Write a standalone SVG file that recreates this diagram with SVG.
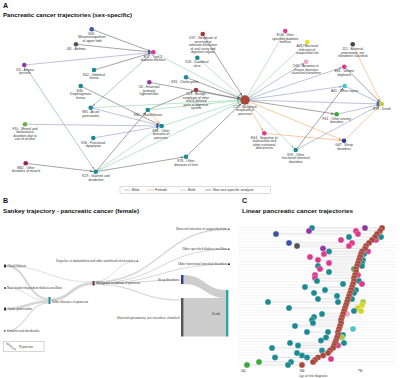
<svg xmlns="http://www.w3.org/2000/svg" width="400" height="378" viewBox="0 0 400 378">
<style>
.pl{font-family:"Liberation Sans",Arial,sans-serif;font-weight:bold;fill:#111}
.ti{font-family:"Liberation Sans",Arial,sans-serif;font-weight:bold;font-size:6px;fill:#111}
.lb{font-family:"Liberation Sans",Arial,sans-serif;font-size:3.3px;fill:#333;text-anchor:middle}
.lg{font-family:"Liberation Sans",Arial,sans-serif;font-size:3.6px;fill:#333}
.sk{font-family:"Liberation Serif","Times New Roman",serif;font-size:3.4px;fill:#333}
.ax{font-family:"Liberation Serif","Times New Roman",serif;font-size:4.6px;fill:#222;text-anchor:middle}
.e{fill:none;stroke-width:0.6}
.m{stroke:#8c9cc0}.f{stroke:#f0a868}.b{stroke:#92d2aa}.n{stroke:#666}
.fl{fill:none;stroke:#cfcfcf;stroke-opacity:0.85}
.rl{stroke:#c8c8c8;stroke-width:0.5}
.d{stroke:#fff;stroke-width:0.25}
.te{fill:#1c8a92}.pk{fill:#dc3a8c}.pu{fill:#8e3aa4}.bl{fill:#3a55a8}.gy{fill:#555}.br{fill:#a8483c}.gr{fill:#3aa83a}.ye{fill:#d4d428}.li{fill:#a8c848}.lp{fill:#f0a8c8}.cy{fill:#4cc4cc}
</style>
<defs>
<marker id="am" markerUnits="userSpaceOnUse" markerWidth="4" markerHeight="3" refX="5.5" refY="1.2" orient="auto"><path d="M0,0L3,1.2L0,2.4z" fill="#8c9cc0"/></marker>
<marker id="af" markerUnits="userSpaceOnUse" markerWidth="4" markerHeight="3" refX="5.5" refY="1.2" orient="auto"><path d="M0,0L3,1.2L0,2.4z" fill="#f0a868"/></marker>
<marker id="ab" markerUnits="userSpaceOnUse" markerWidth="4" markerHeight="3" refX="5.5" refY="1.2" orient="auto"><path d="M0,0L3,1.2L0,2.4z" fill="#92d2aa"/></marker>
<marker id="an" markerUnits="userSpaceOnUse" markerWidth="4" markerHeight="3" refX="5.5" refY="1.2" orient="auto"><path d="M0,0L3,1.2L0,2.4z" fill="#666"/></marker>
<marker id="amC" markerUnits="userSpaceOnUse" markerWidth="4" markerHeight="3" refX="8" refY="1.2" orient="auto"><path d="M0,0L3,1.2L0,2.4z" fill="#8c9cc0"/></marker>
<marker id="abC" markerUnits="userSpaceOnUse" markerWidth="4" markerHeight="3" refX="8" refY="1.2" orient="auto"><path d="M0,0L3,1.2L0,2.4z" fill="#92d2aa"/></marker>
<marker id="anC" markerUnits="userSpaceOnUse" markerWidth="4" markerHeight="3" refX="8" refY="1.2" orient="auto"><path d="M0,0L3,1.2L0,2.4z" fill="#666"/></marker>
<pattern id="grid" patternUnits="userSpaceOnUse" x="0" y="227" width="10" height="2.85"><line x1="0" y1="0.5" x2="10" y2="0.5" stroke="#e6e6e6" stroke-width="0.45"/></pattern>
</defs>
<rect width="400" height="378" fill="#fff"/>

<!-- Panel A -->
<text class="pl" x="3" y="7.5" font-size="7">A</text>
<text class="ti" x="3" y="17" textLength="129" lengthAdjust="spacingAndGlyphs">Pancreatic cancer trajectories (sex-specific)</text>

<g id="edgesA">
<line class="e n" x1="76" y1="44.3" x2="153.3" y2="52.3" marker-end="url(#an)"/>
<line class="e n" x1="91.7" y1="29.3" x2="153.3" y2="52.3" marker-end="url(#an)"/>
<line class="e n" x1="94" y1="70" x2="153.3" y2="52.3" marker-end="url(#an)"/>
<line class="e m" x1="24.3" y1="65" x2="153.3" y2="52.3" marker-end="url(#am)"/>
<line class="e m" x1="24.3" y1="65" x2="95.7" y2="171.7" marker-end="url(#am)"/>
<line class="e m" x1="153.3" y1="52.3" x2="90.7" y2="107.7" marker-end="url(#am)"/>
<line class="e b" x1="153.3" y1="52.3" x2="245" y2="100" marker-end="url(#abC)"/>
<line class="e n" x1="80.7" y1="86" x2="161.7" y2="126" marker-end="url(#an)"/>
<line class="e m" x1="90.7" y1="107.7" x2="161.7" y2="126" marker-end="url(#am)"/>
<line class="e b" x1="90.7" y1="107.7" x2="245" y2="100" marker-end="url(#abC)"/>
<line class="e m" x1="25" y1="124.3" x2="161.7" y2="126" marker-end="url(#am)"/>
<line class="e m" x1="93.3" y1="138" x2="161.7" y2="126" marker-end="url(#am)"/>
<line class="e b" x1="95.7" y1="171.7" x2="161.7" y2="126" marker-end="url(#ab)"/>
<line class="e b" x1="95.7" y1="171.7" x2="245" y2="100" marker-end="url(#abC)"/>
<line class="e n" x1="95.7" y1="171.7" x2="147.7" y2="110" marker-end="url(#an)"/>
<line class="e n" x1="95.7" y1="171.7" x2="186" y2="156.7" marker-end="url(#an)"/>
<line class="e n" x1="25.7" y1="163.3" x2="95.7" y2="171.7" marker-end="url(#an)"/>
<line class="e f" x1="147.7" y1="110" x2="161.7" y2="126" marker-end="url(#af)"/>
<line class="e n" x1="147.7" y1="110" x2="196" y2="90" marker-end="url(#an)"/>
<line class="e b" x1="147.7" y1="110" x2="245" y2="100" marker-end="url(#abC)"/>
<line class="e b" x1="161.7" y1="126" x2="245" y2="100" marker-end="url(#abC)"/>
<line class="e n" x1="149.3" y1="82.3" x2="245" y2="100" marker-end="url(#anC)"/>
<line class="e n" x1="186" y1="77.3" x2="245" y2="100" marker-end="url(#anC)"/>
<line class="e n" x1="196" y1="90" x2="245" y2="100" marker-end="url(#anC)"/>
<line class="e n" x1="202.7" y1="34" x2="245" y2="100" marker-end="url(#anC)"/>
<line class="e b" x1="197.3" y1="57.7" x2="245" y2="100" marker-end="url(#abC)"/>
<line class="e n" x1="186" y1="156.7" x2="245" y2="100" marker-end="url(#anC)"/>
<line class="e b" x1="245" y1="100" x2="285.3" y2="31" marker-end="url(#ab)"/>
<line class="e b" x1="245" y1="100" x2="307.3" y2="42" marker-end="url(#ab)"/>
<line class="e m" x1="245" y1="100" x2="306" y2="61.7" marker-end="url(#am)"/>
<line class="e m" x1="245" y1="100" x2="344.3" y2="66.7" marker-end="url(#am)"/>
<line class="e m" x1="245" y1="100" x2="344.7" y2="86" marker-end="url(#am)"/>
<line class="e m" x1="245" y1="100" x2="381.7" y2="104" marker-end="url(#am)"/>
<line class="e n" x1="245" y1="100" x2="336.7" y2="114.3" marker-end="url(#an)"/>
<line class="e f" x1="245" y1="100" x2="264.3" y2="133.3" marker-end="url(#af)"/>
<line class="e b" x1="245" y1="100" x2="295.7" y2="150" marker-end="url(#ab)"/>
<line class="e f" x1="245" y1="100" x2="344" y2="140.7" marker-end="url(#af)"/>
<line class="e f" x1="264.3" y1="133.3" x2="344" y2="140.7" marker-end="url(#af)"/>
<line class="e f" x1="344" y1="140.7" x2="381.7" y2="104" marker-end="url(#af)"/>
<line class="e m" x1="336.7" y1="114.3" x2="381.7" y2="104" marker-end="url(#am)"/>
<line class="e n" x1="344.3" y1="66.7" x2="381.7" y2="104" marker-end="url(#an)"/>
<line class="e m" x1="344.7" y1="86" x2="381.7" y2="104" marker-end="url(#am)"/>
<line class="e f" x1="352.7" y1="44.3" x2="381.7" y2="104" marker-end="url(#af)"/>
<line class="e n" x1="295.7" y1="150" x2="344.7" y2="86" marker-end="url(#an)"/>
<line class="e m" x1="295.7" y1="150" x2="381.7" y2="104" marker-end="url(#am)"/>
</g>

<g id="I20"><circle cx="24.3" cy="65" r="2.3" class="pu"/><text class="lb" x="25" y="70.5">I20 - Angina<tspan x="25" dy="3.5">pectoris</tspan></text></g>
<g id="J45"><circle cx="76" cy="44.3" r="2.3" class="gy"/><text class="lb" x="76" y="49.8">J45 - Asthma</text></g>
<g id="G56"><circle cx="91.7" cy="29.3" r="2.3" class="bl"/><text class="lb" x="92" y="34.5">G56 -<tspan x="92" dy="3.5">Mononeuropathies</tspan><tspan x="92" dy="3.5">of upper limb</tspan></text></g>
<g id="E11"><rect x="148.3" y="50.3" width="1.6" height="4" fill="#3a55a8"/><circle cx="153.3" cy="52.3" r="2.3" class="pk"/><text class="lb" x="153" y="57.8">E11 - Type 2<tspan x="153" dy="3.5">diabetes mellitus</tspan></text></g>
<g id="K42"><circle cx="94" cy="70" r="2.3" class="te"/><text class="lb" x="94" y="75.5">K42 - Umbilical<tspan x="94" dy="3.5">hernia</tspan></text></g>
<g id="K44"><circle cx="80.7" cy="86" r="2.3" class="te"/><text class="lb" x="80.7" y="91.5">K44 -<tspan x="80.7" dy="3.5">Diaphragmatic</tspan><tspan x="80.7" dy="3.5">hernia</tspan></text></g>
<g id="I10"><circle cx="149.3" cy="82.3" r="2.3" class="pu"/><text class="lb" x="149" y="88">I10 - Essential<tspan x="149" dy="3.5">(primary)</tspan><tspan x="149" dy="3.5">hypertension</tspan></text></g>
<g id="K81"><circle cx="186" cy="77.3" r="2.3" class="te"/><text class="lb" x="185" y="82.5">K81 - Cholecystitis</text></g>
<g id="D13"><circle cx="196" cy="90" r="2.3" fill="#a03a3a"/><text class="lb" x="196" y="95">D13 - Benign<tspan x="196" dy="3.5">neoplasm of other</tspan><tspan x="196" dy="3.5">and ill-defined</tspan><tspan x="196" dy="3.5">parts of digestive</tspan><tspan x="196" dy="3.5">system</tspan></text></g>
<g id="D37"><circle cx="202.7" cy="34" r="2.3" fill="#a03a3a"/><text class="lb" x="203" y="39">D37 - Neoplasm of<tspan x="203" dy="3.5">uncertain or</tspan><tspan x="203" dy="3.5">unknown behaviour</tspan><tspan x="203" dy="3.5">of oral cavity and</tspan><tspan x="203" dy="3.5">digestive organs</tspan></text></g>
<g id="K26"><circle cx="197.3" cy="57.7" r="2.3" class="te"/><text class="lb" x="197" y="63">K26 - Duodenal<tspan x="197" dy="3.5">ulcer</tspan></text></g>
<g id="K85"><circle cx="90.7" cy="107.7" r="2.3" class="te"/><text class="lb" x="90.7" y="113">K85 - Acute<tspan x="90.7" dy="3.5">pancreatitis</tspan></text></g>
<g id="K80"><circle cx="147.7" cy="110" r="2.3" class="te"/><text class="lb" x="148" y="115.5">K80 - Cholelithiasis</text></g>
<g id="K86"><rect x="156.5" y="124" width="1.6" height="4" fill="#3a55a8"/><circle cx="161.7" cy="126" r="2.3" class="te"/><text class="lb" x="161" y="131.5">K86 - Other<tspan x="161" dy="3.5">diseases of</tspan><tspan x="161" dy="3.5">pancreas</tspan></text></g>
<g id="F10"><circle cx="25" cy="124.3" r="2.3" fill="#6ab04c"/><text class="lb" x="25" y="129.8">F10 - Mental and<tspan x="25" dy="3.5">behavioural</tspan><tspan x="25" dy="3.5">disorders due to</tspan><tspan x="25" dy="3.5">use of alcohol</tspan></text></g>
<g id="K30"><circle cx="93.3" cy="138" r="2.3" class="te"/><text class="lb" x="93.3" y="143.5">K30 - Functional<tspan x="93.3" dy="3.5">dyspepsia</tspan></text></g>
<g id="M62"><circle cx="25.7" cy="163.3" r="2.3" fill="#a0225a"/><text class="lb" x="26" y="168.8">M62 - Other<tspan x="26" dy="3.5">disorders of muscle</tspan></text></g>
<g id="K29"><circle cx="95.7" cy="171.7" r="2.3" class="te"/><text class="lb" x="96" y="177">K29 - Gastritis and<tspan x="96" dy="3.5">duodenitis</tspan></text></g>
<g id="K76"><circle cx="186" cy="156.7" r="2.3" class="te"/><text class="lb" x="186" y="162">K76 - Other<tspan x="186" dy="3.5">diseases of liver</tspan></text></g>
<g id="C25"><circle cx="245" cy="100" r="4.7" fill="#a8483c"/><text class="lb" x="245" y="107.8">C25 - Malignant<tspan x="245" dy="3.5">neoplasm of</tspan><tspan x="245" dy="3.5">pancreas</tspan></text></g>
<g id="E13"><circle cx="285.3" cy="31" r="2.3" class="pk"/><text class="lb" x="285.3" y="36">E13 - Other<tspan x="285.3" dy="3.5">specified diabetes</tspan><tspan x="285.3" dy="3.5">mellitus</tspan></text></g>
<g id="A49"><circle cx="307.3" cy="42" r="2.3" fill="#e6e620"/><text class="lb" x="307.3" y="47">A49 - Bacterial<tspan x="307.3" dy="3.5">infection of</tspan><tspan x="307.3" dy="3.5">unspecified site</tspan></text></g>
<g id="D63"><circle cx="306" cy="61.7" r="2.3" class="lp"/><text class="lb" x="306" y="67">D63 - Anaemia in<tspan x="306" dy="3.5">chronic diseases</tspan><tspan x="306" dy="3.5">classified elsewhere</tspan></text></g>
<g id="J15"><circle cx="352.7" cy="44.3" r="2.3" fill="#444"/><text class="lb" x="352.7" y="50">J15 - Bacterial<tspan x="352.7" dy="3.5">pneumonia, not</tspan><tspan x="352.7" dy="3.5">elsewhere classified</tspan></text></g>
<g id="E86"><circle cx="344.3" cy="66.7" r="2.3" class="pk"/><text class="lb" x="344.3" y="72.3">E86 - Volume<tspan x="344.3" dy="3.5">depletion</tspan></text></g>
<g id="A41"><circle cx="344.7" cy="86" r="2.3" class="cy"/><text class="lb" x="344.7" y="91.5">A41 - Other sepsis</text></g>
<g id="R99"><rect x="377.3" y="102" width="1.6" height="4" fill="#3a55a8"/><circle cx="381.7" cy="104" r="2.3" fill="#c8c83a"/><text class="lb" x="382" y="109.5">R99 - Death</text></g>
<g id="F41"><circle cx="336.7" cy="114.3" r="2.3" fill="#3aa83a"/><text class="lb" x="336.7" y="119.8">F41 - Other anxiety<tspan x="336.7" dy="3.5">disorders</tspan></text></g>
<g id="E64"><circle cx="264.3" cy="133.3" r="2.3" class="pk"/><text class="lb" x="264.3" y="138.5">E64 - Sequelae of<tspan x="264.3" dy="3.5">malnutrition and</tspan><tspan x="264.3" dy="3.5">other nutritional</tspan><tspan x="264.3" dy="3.5">deficiencies</tspan></text></g>
<g id="G47"><circle cx="344" cy="140.7" r="2.3" fill="#2e3d8f"/><text class="lb" x="344" y="146">G47 - Sleep<tspan x="344" dy="3.5">disorders</tspan></text></g>
<g id="K59"><circle cx="295.7" cy="150" r="2.3" class="te"/><text class="lb" x="295.7" y="155.5">K59 - Other<tspan x="295.7" dy="3.5">functional intestinal</tspan><tspan x="295.7" dy="3.5">disorders</tspan></text></g>

<g id="legendA">
<rect x="120" y="186.5" width="150.5" height="7" fill="#fff" stroke="#aaa" stroke-width="0.4"/>
<line x1="124" y1="190" x2="130.5" y2="190" class="m" stroke-width="0.6"/><text class="lg" x="131.7" y="191.3">Male</text>
<line x1="146.7" y1="190" x2="154" y2="190" class="f" stroke-width="0.6"/><text class="lg" x="155" y="191.3">Female</text>
<line x1="180" y1="190" x2="187" y2="190" class="b" stroke-width="0.6"/><text class="lg" x="188" y="191.3">Both</text>
<line x1="205" y1="190" x2="211.7" y2="190" class="n" stroke-width="0.6"/><text class="lg" x="213" y="191.3">Non-sex-specific analysis</text>
</g>

<!-- Panel B -->
<text class="pl" x="3" y="203" font-size="7">B</text>
<text class="ti" x="3" y="213" textLength="136" lengthAdjust="spacingAndGlyphs">Sankey trajectory - pancreatic cancer (female)</text>
<g id="sankeyFlows">
<path class="fl" stroke-width="2" d="M6,266 C27,266 27,299 48.5,299"/>
<path class="fl" stroke-width="0.8" d="M6,266.5 C49,266.5 49,282 92.5,282"/>
<path class="fl" stroke-width="0.8" d="M6,288 C27,288 27,300.5 48.5,300.5"/>
<path class="fl" stroke-width="2.5" d="M6,309 C27,309 27,301.5 48.5,301.5"/>
<path class="fl" stroke-width="1.2" d="M5.5,331 C27,331 27,303 48.5,303"/>
<path class="fl" stroke-width="3" d="M50.5,300 C71,300 71,283.5 92.5,283.5"/>
<path class="fl" stroke-width="0.8" d="M94.5,281.5 C115,281.5 115,261.2 136.5,261.2"/>
<path class="fl" stroke-width="1.5" d="M94.5,282 C161,282 161,229.3 228,229.3"/>
<path class="fl" stroke-width="1" d="M94.5,283 C161,283 161,249.3 228,249.3"/>
<path class="fl" stroke-width="1" d="M94.5,283.5 C161,283.5 161,264.3 228,264.3"/>
<path class="fl" stroke-width="1.2" d="M94.5,284 C138,284 138,280 181,280"/>
<path class="fl" stroke-width="1.2" d="M94.5,284.5 C138,284.5 138,300 181,300"/>
<path fill="#cdcdcd" d="M183.5,275 C205,275 205,290 226,290 L226,298 C205,298 205,284 183.5,284 Z"/>
<rect x="183.5" y="298" width="42.5" height="38.5" fill="#cdcdcd"/>
</g>
<g id="sankeyNodes">
<rect x="4" y="264.5" width="2" height="3" fill="#333"/><text class="sk" x="7.5" y="267.3">Cholelithiasis</text>
<rect x="4" y="287.3" width="2" height="1.4" fill="#333"/><text class="sk" x="7" y="289.2">Non-insulin-dependent diabetes mellitus</text>
<rect x="48.5" y="297" width="2" height="7" fill="#1c8a92"/><text class="sk" x="52" y="302.5">Other diseases of pancreas</text>
<rect x="4" y="307.5" width="2" height="3" fill="#333"/><text class="sk" x="7.5" y="310.2">Acute pancreatitis</text>
<rect x="4" y="330.4" width="1.5" height="1.2" fill="#333"/><text class="sk" x="7" y="332.2">Gastritis and duodenitis</text>
<rect x="92.5" y="281" width="2" height="4.5" fill="#6a2a3a"/><text class="sk" x="96" y="284.3">Malignant neoplasm of pancreas</text>
<text class="sk" x="135" y="262.3" text-anchor="end">Sequelae of malnutrition and other nutritional deficiencies</text><rect x="136.5" y="260.6" width="1.6" height="1.2" fill="#333"/>
<text class="sk" x="227" y="230.3" text-anchor="end">Bacterial infection of unspecified site</text><rect x="228" y="228.6" width="1.6" height="1.2" fill="#333"/>
<text class="sk" x="227" y="250.3" text-anchor="end">Other specified diabetes mellitus</text><rect x="228" y="248.6" width="1.6" height="1.2" fill="#333"/>
<text class="sk" x="227" y="265.3" text-anchor="end">Other functional intestinal disorders</text><rect x="228" y="263.4" width="2" height="1.6" fill="#333"/>
<text class="sk" x="178.5" y="281.3" text-anchor="end">Sleep disorders</text><rect x="181" y="275" width="2.5" height="9" fill="#2e3d8f"/>
<text class="sk" x="179.5" y="318.5" text-anchor="end">Bacterial pneumonia, not elsewhere classified</text><rect x="181" y="298" width="2.5" height="38.5" fill="#555"/>
<rect x="226" y="290" width="2.4" height="46.5" fill="#2aa7a7"/><text class="sk" x="216" y="315" text-anchor="middle">Death</text>
</g>
<g id="legendB">
<rect x="3.5" y="341.5" width="40.5" height="10" fill="#fff" stroke="#999" stroke-width="0.4"/>
<path d="M6,343.5 C11,343.5 11,349.5 16,349.5" fill="none" stroke="#bbb" stroke-width="1.8"/>
<text class="sk" x="19" y="347.8" font-size="3.6">N patients</text>
</g>

<!-- Panel C -->
<text class="pl" x="242" y="203" font-size="7">C</text>
<text class="ti" x="242" y="213" textLength="111" lengthAdjust="spacingAndGlyphs">Linear pancreatic cancer trajectories</text>
<rect x="238" y="226" width="158" height="141" fill="url(#grid)"/>
<g id="rowsC">
<line class="rl" x1="312" y1="228" x2="382" y2="228"/>
<line class="rl" x1="309" y1="231" x2="380" y2="231"/>
<line class="rl" x1="276" y1="234" x2="377" y2="234"/>
<line class="rl" x1="349" y1="237" x2="381" y2="237"/>
<line class="rl" x1="341" y1="240" x2="376" y2="240"/>
<line class="rl" x1="289" y1="243" x2="369" y2="243"/>
<line class="rl" x1="297" y1="246" x2="366" y2="246"/>
<line class="rl" x1="323" y1="248.5" x2="365" y2="248.5"/>
<line class="rl" x1="329" y1="251.5" x2="368" y2="251.5"/>
<line class="rl" x1="324" y1="254" x2="364" y2="254"/>
<line class="rl" x1="310" y1="257" x2="360" y2="257"/>
<line class="rl" x1="318" y1="260" x2="363" y2="260"/>
<line class="rl" x1="329" y1="263" x2="362" y2="263"/>
<line class="rl" x1="318" y1="266" x2="362" y2="266"/>
<line class="rl" x1="320" y1="269" x2="356" y2="269"/>
<line class="rl" x1="329" y1="272" x2="356" y2="272"/>
<line class="rl" x1="315" y1="275" x2="358" y2="275"/>
<line class="rl" x1="315" y1="278" x2="354" y2="278"/>
<line class="rl" x1="317" y1="281" x2="359" y2="281"/>
<line class="rl" x1="343" y1="284" x2="362" y2="284"/>
<line class="rl" x1="305" y1="287" x2="352" y2="287"/>
<line class="rl" x1="325" y1="290" x2="356" y2="290"/>
<line class="rl" x1="314" y1="293" x2="354" y2="293"/>
<line class="rl" x1="337" y1="296" x2="349" y2="296"/>
<line class="rl" x1="318" y1="299" x2="352" y2="299"/>
<line class="rl" x1="268" y1="302" x2="363" y2="302"/>
<line class="rl" x1="346" y1="305" x2="362" y2="305"/>
<line class="rl" x1="289" y1="308" x2="358" y2="308"/>
<line class="rl" x1="344" y1="311" x2="361" y2="311"/>
<line class="rl" x1="322" y1="314" x2="347" y2="314"/>
<line class="rl" x1="314" y1="317" x2="342" y2="317"/>
<line class="rl" x1="312" y1="320" x2="341" y2="320"/>
<line class="rl" x1="313" y1="323" x2="341" y2="323"/>
<line class="rl" x1="295" y1="326" x2="340" y2="326"/>
<line class="rl" x1="339" y1="329" x2="353" y2="329"/>
<line class="rl" x1="307" y1="332" x2="338" y2="332"/>
<line class="rl" x1="321" y1="340.5" x2="336" y2="340.5"/>
<line class="rl" x1="326" y1="337.5" x2="342" y2="337.5"/>
<line class="rl" x1="290" y1="343" x2="344" y2="343"/>
<line class="rl" x1="298" y1="345.5" x2="338" y2="345.5"/>
<line class="rl" x1="272" y1="348" x2="333" y2="348"/>
<line class="rl" x1="322" y1="350.5" x2="330" y2="350.5"/>
<line class="rl" x1="297" y1="353" x2="328" y2="353"/>
<line class="rl" x1="302" y1="355.5" x2="323" y2="355.5"/>
<line class="rl" x1="275" y1="357.5" x2="331" y2="357.5"/>
<line class="rl" x1="259" y1="362" x2="313" y2="362"/>
<line class="rl" x1="247" y1="365" x2="302" y2="365"/>
</g>
<g id="dotsC">
<circle class="d te" cx="312" cy="228" r="3"/><circle class="d pu" cx="365" cy="228" r="3"/>
<circle class="d pu" cx="309" cy="231" r="3"/><circle class="d pk" cx="356" cy="231" r="3"/>
<circle class="d bl" cx="276" cy="234" r="3"/><circle class="d pk" cx="358" cy="234" r="3"/>
<circle class="d te" cx="349" cy="237" r="3"/><circle class="d te" cx="381" cy="237" r="3"/>
<circle class="d pk" cx="341" cy="240" r="3"/><circle class="d pk" cx="376" cy="240" r="3"/>
<circle class="d bl" cx="289" cy="243" r="3"/><circle class="d pk" cx="352" cy="243" r="3"/>
<circle class="d gy" cx="297" cy="246" r="3"/><circle class="d pk" cx="349" cy="246" r="3"/>
<circle class="d pu" cx="323" cy="248.5" r="3"/>
<circle class="d te" cx="329" cy="251.5" r="3"/><circle class="d pk" cx="368" cy="251.5" r="3"/>
<circle class="d pk" cx="324" cy="254" r="3"/><circle class="d te" cx="364" cy="254" r="3"/>
<circle class="d pk" cx="310" cy="257" r="3"/>
<circle class="d pk" cx="318" cy="260" r="3"/><circle class="d te" cx="363" cy="260" r="3"/>
<circle class="d pk" cx="329" cy="263" r="3"/><circle class="d te" cx="362" cy="263" r="3"/>
<circle class="d te" cx="318" cy="266" r="3"/><circle class="d te" cx="362" cy="266" r="3"/>
<circle class="d pk" cx="320" cy="269" r="3"/>
<circle class="d te" cx="329" cy="272" r="3"/>
<circle class="d pk" cx="315" cy="275" r="3"/><circle class="d pk" cx="358" cy="275" r="3"/>
<circle class="d pk" cx="315" cy="278" r="3"/>
<circle class="d te" cx="317" cy="281" r="3"/><circle class="d te" cx="359" cy="281" r="3"/>
<circle class="d te" cx="343" cy="284" r="3"/><circle class="d pk" cx="362" cy="284" r="3"/>
<circle class="d te" cx="305" cy="287" r="3"/>
<circle class="d te" cx="325" cy="290" r="3"/><circle class="d te" cx="356" cy="290" r="3"/>
<circle class="d te" cx="314" cy="293" r="3"/><circle class="d te" cx="354" cy="293" r="3"/>
<circle class="d te" cx="337" cy="296" r="3"/>
<circle class="d te" cx="318" cy="299" r="3"/><circle class="d te" cx="352" cy="299" r="3"/>
<circle class="d te" cx="268" cy="302" r="3"/><circle class="d te" cx="338" cy="302" r="3"/><circle class="d li" cx="363" cy="302" r="3"/>
<circle class="d ye" cx="362" cy="305" r="3"/>
<circle class="d te" cx="289" cy="308" r="3"/><circle class="d ye" cx="358" cy="308" r="3"/>
<circle class="d te" cx="354" cy="311" r="3"/><circle class="d ye" cx="361" cy="311" r="3"/>
<circle class="d te" cx="322" cy="314" r="3"/><circle class="d lp" cx="347" cy="314" r="3"/>
<circle class="d te" cx="314" cy="317" r="3"/>
<circle class="d te" cx="312" cy="320" r="3"/>
<circle class="d te" cx="313" cy="323" r="3"/>
<circle class="d te" cx="295" cy="326" r="3"/>
<circle class="d cy" cx="353" cy="329" r="3"/>
<circle class="d te" cx="307" cy="332" r="3"/><circle class="d te" cx="328" cy="332" r="3"/>
<circle class="d te" cx="343" cy="335" r="3"/>
<circle class="d te" cx="326" cy="337.5" r="3"/><circle class="d li" cx="342" cy="337.5" r="3"/>
<circle class="d te" cx="321" cy="340.5" r="3"/>
<circle class="d te" cx="290" cy="343" r="3"/><circle class="d te" cx="344" cy="343" r="3"/>
<circle class="d te" cx="298" cy="345.5" r="3"/><circle class="d pk" cx="338" cy="345.5" r="3"/>
<circle class="d te" cx="272" cy="348" r="3"/>
<circle class="d te" cx="322" cy="350.5" r="3"/>
<circle class="d te" cx="297" cy="353" r="3"/>
<circle class="d te" cx="302" cy="355.5" r="3"/>
<circle class="d te" cx="275" cy="357.5" r="3"/><circle class="d te" cx="307" cy="357.5" r="3"/><circle class="d pk" cx="331" cy="359" r="3"/>
<circle class="d te" cx="291" cy="362" r="3"/><circle class="d gr" cx="259" cy="362" r="3"/>
<circle class="d te" cx="288" cy="365" r="3"/><circle class="d gr" cx="247" cy="365" r="3"/>
</g>
<g id="chainC">
<circle class="d br" cx="382" cy="228" r="3"/><circle class="d br" cx="380" cy="231" r="3"/><circle class="d br" cx="377" cy="234" r="3"/><circle class="d br" cx="375" cy="237" r="3"/><circle class="d br" cx="372" cy="240" r="3"/><circle class="d br" cx="369" cy="243" r="3"/><circle class="d br" cx="366" cy="246" r="3"/><circle class="d br" cx="365" cy="248.5" r="3"/><circle class="d br" cx="362" cy="251.5" r="3"/><circle class="d br" cx="361" cy="254" r="3"/><circle class="d br" cx="360" cy="257" r="3"/><circle class="d br" cx="359" cy="260" r="3"/><circle class="d br" cx="358" cy="263" r="3"/><circle class="d br" cx="357" cy="266" r="3"/><circle class="d gr" cx="354" cy="269" r="3"/><circle class="d br" cx="356" cy="269" r="3"/><circle class="d br" cx="356" cy="272" r="3"/><circle class="d br" cx="355" cy="275" r="3"/><circle class="d br" cx="354" cy="278" r="3"/><circle class="d br" cx="354" cy="281" r="3"/><circle class="d br" cx="353" cy="284" r="3"/><circle class="d br" cx="352" cy="287" r="3"/><circle class="d br" cx="351" cy="290" r="3"/><circle class="d br" cx="350" cy="293" r="3"/><circle class="d br" cx="349" cy="296" r="3"/><circle class="d br" cx="348" cy="299" r="3"/><circle class="d br" cx="347" cy="302" r="3"/><circle class="d br" cx="346" cy="305" r="3"/><circle class="d br" cx="345" cy="308" r="3"/><circle class="d br" cx="344" cy="311" r="3"/><circle class="d br" cx="343" cy="314" r="3"/><circle class="d br" cx="342" cy="317" r="3"/><circle class="d br" cx="341" cy="320" r="3"/><circle class="d br" cx="341" cy="323" r="3"/><circle class="d br" cx="340" cy="326" r="3"/><circle class="d br" cx="339" cy="329" r="3"/><circle class="d br" cx="338" cy="332" r="3"/><circle class="d br" cx="338" cy="335" r="3"/><circle class="d br" cx="337" cy="337.5" r="3"/><circle class="d br" cx="336" cy="340.5" r="3"/><circle class="d br" cx="335" cy="343" r="3"/><circle class="d br" cx="334" cy="345.5" r="3"/><circle class="d br" cx="333" cy="348" r="3"/><circle class="d br" cx="330" cy="350.5" r="3"/><circle class="d br" cx="328" cy="353" r="3"/><circle class="d br" cx="323" cy="355.5" r="3"/><circle class="d br" cx="318" cy="357.5" r="3"/><circle class="d br" cx="315" cy="360" r="3"/><circle class="d br" cx="313" cy="362" r="3"/><circle class="d br" cx="302" cy="365" r="3"/>
</g>
<g id="axisC">
<text class="ax" x="243" y="372">50</text>
<text class="ax" x="302" y="372">60</text>
<text class="ax" x="360" y="372">70</text>
<text class="sk" x="313" y="376.5" text-anchor="middle">Age at first diagnosis</text>
</g>
</svg>
